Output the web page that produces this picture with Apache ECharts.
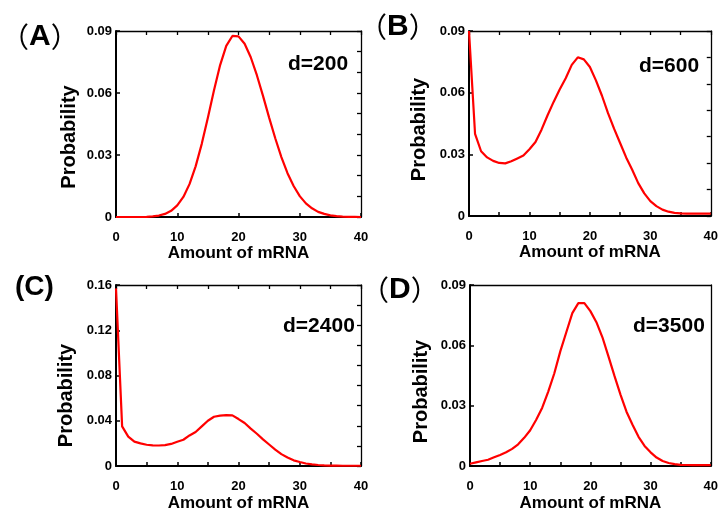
<!DOCTYPE html>
<html>
<head>
<meta charset="utf-8">
<script src="https://cdn.jsdelivr.net/npm/echarts@6/dist/echarts.min.js"></script>
<style>
html, body { margin: 0; padding: 0; background: #fff; }
#main { width: 721px; height: 513px; }
</style>
</head>
<body>
<div id="main"></div>
<script>
// mRNA amount (x) shared by all four panels
const amounts = [0, 1, 2, 3, 4, 5, 6, 7, 8, 9, 10, 11, 12, 13, 14, 15, 16, 17, 18, 19, 20,
    21, 22, 23, 24, 25, 26, 27, 28, 29, 30, 31, 32, 33, 34, 35, 36, 37, 38, 39, 40];

// Probability
const probD200 = [0, 0, 0, 0, 0, 0.0001, 0.0003, 0.0007, 0.0015, 0.003, 0.0056, 0.0097, 0.0159, 0.0245,
    0.0354, 0.048, 0.0613, 0.0735, 0.0828, 0.0876, 0.0874, 0.0838, 0.0773, 0.0686, 0.0586, 0.0481,
    0.0381, 0.029, 0.0212, 0.015, 0.0101, 0.0066, 0.0042, 0.0025, 0.0015, 0.0008, 0.0004, 0.0002,
    0.0001, 0.0001, 0];
const probD600 = [0.09, 0.04, 0.0315, 0.0285, 0.0268, 0.0258, 0.0256, 0.0266, 0.028, 0.0294, 0.0325,
    0.036, 0.042, 0.049, 0.0555, 0.0615, 0.067, 0.0735, 0.0772, 0.0762, 0.0725, 0.066, 0.0585, 0.05,
    0.0425, 0.0355, 0.0285, 0.0225, 0.016, 0.011, 0.0072, 0.0048, 0.0031, 0.0021, 0.0015, 0.0013,
    0.0012, 0.0012, 0.0012, 0.0012, 0.0012];
const probD2400 = [0.157, 0.035, 0.026, 0.0215, 0.02, 0.0188, 0.0182, 0.0181, 0.0185, 0.0195, 0.0215,
    0.0232, 0.027, 0.03, 0.035, 0.04, 0.0435, 0.0445, 0.045, 0.0448, 0.0415, 0.038, 0.033, 0.0285,
    0.0235, 0.019, 0.0145, 0.0105, 0.0075, 0.005, 0.0035, 0.0022, 0.0014, 0.0009, 0.0006, 0.0004,
    0.0003, 0.0002, 0.0002, 0.0002, 0.0002];
const probD3500 = [0.0011, 0.0018, 0.0025, 0.0031, 0.0043, 0.0055, 0.0068, 0.0085, 0.0108, 0.014,
    0.0178, 0.023, 0.029, 0.037, 0.046, 0.057, 0.0665, 0.076, 0.081, 0.081, 0.077, 0.0715, 0.064,
    0.0545, 0.0448, 0.0355, 0.027, 0.0205, 0.0145, 0.01, 0.0068, 0.0042, 0.0025, 0.0015, 0.0009,
    0.0006, 0.0005, 0.0004, 0.0004, 0.0004, 0.0004];

const panelLetters = ["A", "B", "C", "D"];
const panelNotes = ["d=200", "d=600", "d=2400", "d=3500"];
const xTickLabels = [0, 10, 20, 30, 40];

const FONT = "Arial, 'Liberation Sans', sans-serif";
const chart = echarts.init(document.getElementById("main"));

// Layout for each panel (plot box, ticks, label placement)
const panels = [
    { grid: { left: 116, top: 31, width: 245, height: 186 }, data: probD200, yMax: 0.09, yStep: 0.03,
      bottomStep: 10, topTicks: true, rightSplits: 9, labelShift: 2, nameGap: 37, nameShift: 13, xNameGap: 27,
      letter: { x: 1, y: 35 }, note: { x: 288, y: 63 } },
    { grid: { left: 469, top: 31, width: 245, height: 185 }, data: probD600, yMax: 0.09, yStep: 0.03,
      bottomStep: 5, topTicks: true, rightSplits: 7, labelShift: 5, nameGap: 40, nameShift: 6, xNameGap: 27,
      letter: { x: 359, y: 25 }, note: { x: 639, y: 65 } },
    { grid: { left: 116, top: 285, width: 245, height: 184 }, data: probD2400, yMax: 0.16, yStep: 0.04,
      bottomStep: 5, topTicks: true, rightSplits: 9, labelShift: 0, nameGap: 40, nameShift: 20, xNameGap: 29,
      letter: { x: 15, y: 286 }, note: { x: 283, y: 325 } },
    { grid: { left: 470, top: 285, width: 244, height: 185 }, data: probD3500, yMax: 0.09, yStep: 0.03,
      bottomStep: 5, topTicks: false, rightSplits: 0, labelShift: 0, nameGap: 39, nameShift: 16, xNameGap: 29,
      letter: { x: 361, y: 288 }, note: { x: 633, y: 325 } },
];

const grids = [], xAxes = [], yAxes = [], series = [], graphics = [];

panels.forEach((p, i) => {
    grids.push(p.grid);

    // bottom axis with labels
    xAxes.push({
        type: "value", gridIndex: i, position: "bottom", min: 0, max: 40, interval: p.bottomStep,
        axisLine: { show: true, onZero: false, lineStyle: { color: "#000", width: 2 } },
        axisTick: { show: true, inside: true, length: 4, lineStyle: { color: "#000", width: 1.5 } },
        axisLabel: {
            margin: 14, color: "#000", fontFamily: FONT, fontWeight: "bold", fontSize: 13,
            formatter: (v) => (xTickLabels.indexOf(v) >= 0 ? String(v) : ""),
        },
        splitLine: { show: false },
        name: "Amount of mRNA", nameLocation: "middle", nameGap: p.xNameGap,
        nameTextStyle: { color: "#000", fontFamily: FONT, fontWeight: "bold", fontSize: 17 },
    });
    // top frame
    xAxes.push({
        type: "value", gridIndex: i, position: "top", min: 0, max: 40, interval: 5,
        axisLine: { show: true, onZero: false, lineStyle: { color: "#000", width: 1.3 } },
        axisTick: { show: p.topTicks, inside: true, length: 4, lineStyle: { color: "#000", width: 1.3 } },
        axisLabel: { show: false },
        splitLine: { show: false },
    });

    // left axis with labels
    yAxes.push({
        type: "value", gridIndex: i, position: "left", min: 0, max: p.yMax, interval: p.yStep,
        axisLine: { show: true, onZero: false, lineStyle: { color: "#000", width: 2 } },
        axisTick: { show: true, inside: true, length: 4, lineStyle: { color: "#000", width: 1.5 } },
        axisLabel: {
            margin: 4, color: "#000", fontFamily: FONT, fontWeight: "bold", fontSize: 13,
            padding: [p.labelShift * 2, 0, 0, 0],
            formatter: (v) => (v === 0 ? "0" : v.toFixed(2)),
        },
        splitLine: { show: false },
        name: "Probability", nameLocation: "middle", nameGap: p.nameGap,
        nameTextStyle: {
            color: "#000", fontFamily: FONT, fontWeight: "bold", fontSize: 20,
            padding: [0, p.nameShift * 2, 0, 0],
        },
    });
    // right frame (ticks on its own scale)
    yAxes.push({
        type: "value", gridIndex: i, position: "right", min: 0, max: p.rightSplits || 1, interval: 1,
        axisLine: { show: true, onZero: false, lineStyle: { color: "#000", width: 1.3 } },
        axisTick: { show: p.rightSplits > 0, inside: true, length: 4, lineStyle: { color: "#000", width: 1.3 } },
        axisLabel: { show: false },
        splitLine: { show: false },
    });

    series.push({
        type: "line", xAxisIndex: i * 2, yAxisIndex: i * 2,
        data: amounts.map((a, k) => [a, p.data[k]]),
        showSymbol: false, smooth: false,
        lineStyle: { color: "#ff0000", width: 2.2 },
        itemStyle: { color: "#ff0000" },
    });

    const letter = panelLetters[i];
    const full = letter !== "C";
    graphics.push({
        type: "text", left: p.letter.x, top: p.letter.y - 13,
        style: {
            text: full ? "{p|（}{l|" + letter + "}{p|）}" : "(" + letter + ")",
            fill: "#000", font: "bold 28px " + FONT,
            rich: {
                p: { fontFamily: "'Noto Sans CJK SC'", fontWeight: "normal", fontSize: 28, fill: "#000" },
                l: { fontFamily: FONT, fontWeight: "bold", fontSize: 30, fill: "#000" },
            },
        },
    });
    graphics.push({
        type: "text", left: p.note.x, top: p.note.y - 9,
        style: { text: panelNotes[i], fill: "#000", font: "bold 21px " + FONT },
    });
});

chart.setOption({
    animation: false,
    backgroundColor: "#fff",
    grid: grids,
    xAxis: xAxes,
    yAxis: yAxes,
    series: series,
    graphic: graphics,
});
</script>
</body>
</html>
